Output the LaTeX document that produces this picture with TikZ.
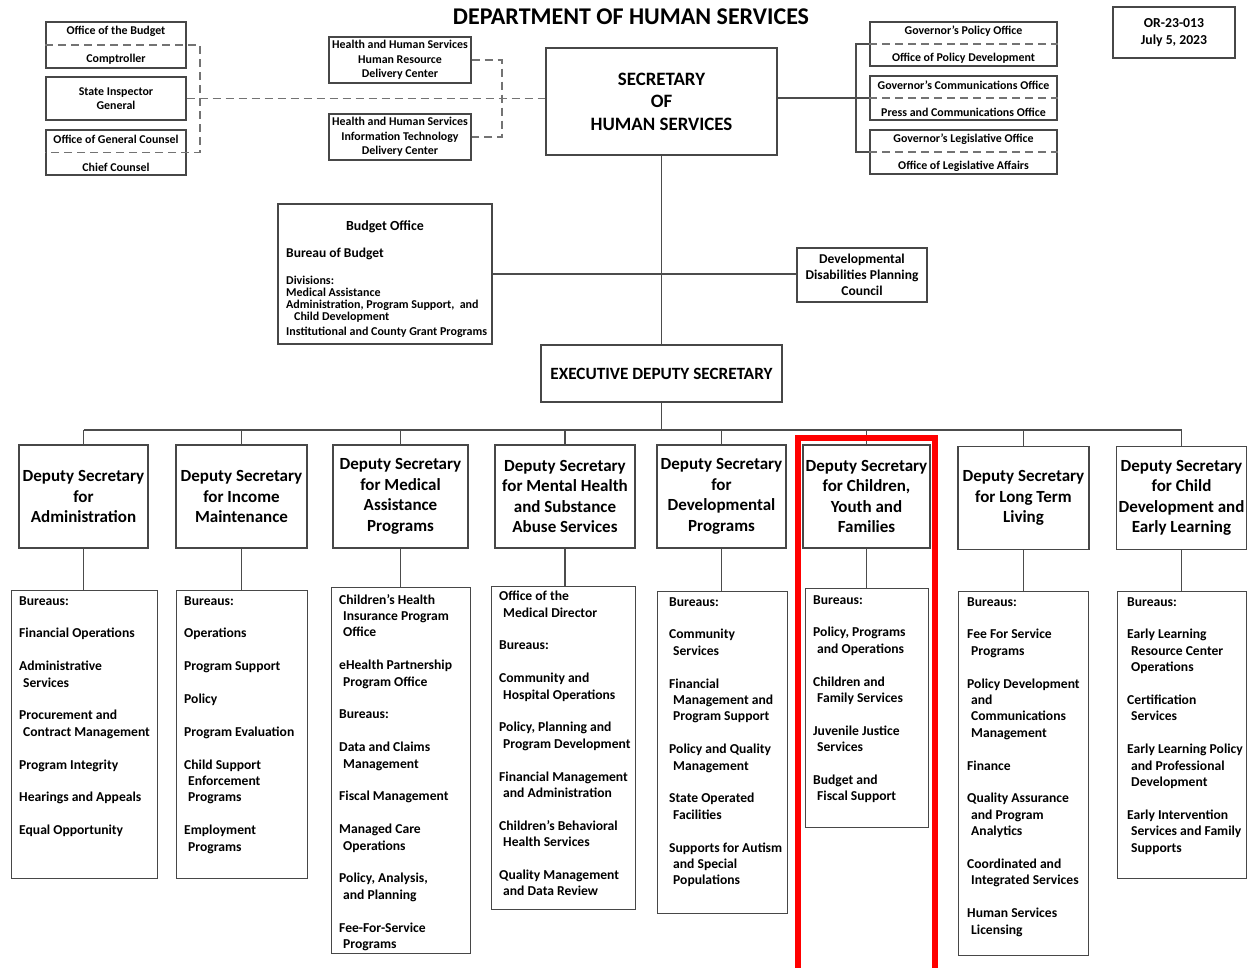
\documentclass[tikz,border=0pt]{standalone}
\usepackage{fontspec}
\setmainfont{Carlito}
\usetikzlibrary{positioning}
\newcommand{\ind}{\hspace*{4pt}}
\newcommand{\fs}[2]{\fontsize{#1}{#2}\selectfont}

\begin{document}
\begin{tikzpicture}[x=1pt, y=-1pt,
	box/.style={draw=black!72, line width=1.1pt, inner sep=0pt},
	conn/.style={draw=black!70, line width=1.1pt},
	dconn/.style={draw=black!55, line width=1.5pt, dash pattern=on 8pt off 5pt},
	txt/.style={inner sep=0pt, align=center, font=\bfseries\fs{11.9}{14.5}},
	deputy/.style={box, minimum height=103pt, align=center, font=\bfseries\fs{17}{20.5}},
	burbox/.style={box, anchor=north west},
	burtext/.style={anchor=north west, inner sep=0pt, align=left, font=\bfseries\fs{13.6}{16.4}}]
	\useasboundingbox (0,0) rectangle (1247,968);

	\node[inner sep=0pt, font=\bfseries\fs{24}{26}] (title) at (631,17) {DEPARTMENT OF HUMAN SERVICES};

	\node[box, minimum width=140pt, minimum height=46pt] (ofb) at (116,45) {};
	\node[txt] (ofbt) at (116,31) {Office of the Budget};
	\node[txt] (cmpt) at (116,59) {Comptroller};
	\node[box, txt, minimum width=140pt, minimum height=43pt] (sig) at (116,98.5) {State Inspector\\General};
	\node[box, minimum width=140pt, minimum height=45pt] (ogc) at (116,152.5) {};
	\node[txt] (ogct) at (116,139) {Office of General Counsel};
	\node[txt] (chct) at (116,167) {Chief Counsel};
	\coordinate (lb1) at (200,45);
	\coordinate (lb2) at (200,152.5);
	\draw[dconn] (ofb.west) -- (lb1) -- (lb2) -- (ogc.west);

	\node[box, txt, minimum width=142pt, minimum height=46pt] (hr) at (400,60) {Health and Human Services\\Human Resource\\Delivery Center};
	\node[box, txt, minimum width=142pt, minimum height=46pt] (it) at (400,137) {Health and Human Services\\Information Technology\\Delivery Center};
	\coordinate (hb1) at (502,60);
	\coordinate (hb2) at (502,137);
	\draw[dconn] (hr.east) -- (hb1) -- (hb2) -- (it.east);

	\node[box, align=center, font=\bfseries\fs{18.9}{22.5}, minimum width=231pt, minimum height=107pt] (sec) at (661.5,101.5) {SECRETARY\\OF\\HUMAN SERVICES};
	\draw[dconn] (sig.east) -- (sig.east -| sec.west);

	\node[box, minimum width=187pt, minimum height=44pt] (gpo) at (963.5,44) {};
	\node[txt] (gpot) at (963.5,31) {Governor's Policy Office};
	\node[txt] (opdt) at (963.5,58) {Office of Policy Development};
	\node[box, minimum width=187pt, minimum height=44pt] (gco) at (963.5,98) {};
	\node[txt] (gcot) at (963.5,85) {Governor's Communications Office};
	\node[txt] (pcot) at (963.5,112) {Press and Communications Office};
	\node[box, minimum width=187pt, minimum height=44pt] (glo) at (963.5,152) {};
	\node[txt] (glot) at (963.5,139) {Governor's Legislative Office};
	\node[txt] (olat) at (963.5,166) {Office of Legislative Affairs};
	\draw[dconn] (gpo.west) -- (gpo.east);
	\draw[dconn] (gco.west) -- (gco.east);
	\draw[dconn] (glo.west) -- (glo.east);
	\coordinate (rb1) at (856,44);
	\coordinate (rb2) at (856,152);
	\draw[conn] (gpo.west) -- (rb1) -- (rb2) -- (glo.west);
	\draw[conn] (sec.east |- gco.west) -- (gco.west);

	\node[box, txt, font=\bfseries\fs{13.7}{17}, minimum width=122pt, minimum height=51pt] (ord) at (1174,32.5) {OR-23-013\\July 5, 2023};

	\node[box, minimum width=214pt, minimum height=140pt] (bo) at (385,274) {};
	\node[txt, font=\bfseries\fs{13.9}{16}] (bot) at (385,227) {Budget Office};
	\node[txt, anchor=west, font=\bfseries\fs{13.5}{16}] (bob) at (286,254) {Bureau of Budget};
	\node[txt, anchor=north west, align=left, font=\bfseries\fs{12}{12}] (bod) at (286,276) {Divisions:\\Medical Assistance\\Administration, Program Support,\ \ and\\\ind\ind Child Development\\[3pt]Institutional and County Grant Programs};
	\node[box, txt, font=\bfseries\fs{13.5}{16}, minimum width=130pt, minimum height=54pt] (dd) at (862,275) {Developmental\\Disabilities Planning\\Council};
	\draw[conn] (bo.east) -- (bo.east -| dd.west);

	\node[box, font=\bfseries\fs{17.2}{20}, minimum width=241pt, minimum height=57pt] (eds) at (661.5,373.5) {EXECUTIVE DEPUTY SECRETARY};
	\draw[conn] (sec.south) -- (eds.north);
	\coordinate (bus) at (661.5,430);
	\draw[conn] (eds.south) -- (bus);

	\node[deputy, minimum width=129pt] (dep1) at (83.5,496.5) {Deputy Secretary\\for\\Administration};
	\node[deputy, minimum width=131pt] (dep2) at (241.5,496.5) {Deputy Secretary\\for Income\\Maintenance};
	\node[deputy, minimum width=135pt] (dep3) at (400.5,496.5) {Deputy Secretary\\for Medical\\Assistance\\Programs};
	\node[deputy, minimum width=140pt] (dep4) at (565,496.5) {Deputy Secretary\\for Mental Health\\and Substance\\Abuse Services};
	\node[deputy, minimum width=129pt] (dep5) at (721.5,496.5) {Deputy Secretary\\for\\Developmental\\Programs};
	\node[deputy, minimum width=127pt] (dep6) at (866.5,496.5) {Deputy Secretary\\for Children,\\Youth and\\Families};
	\node[deputy, minimum width=131pt] (dep7) at (1023.5,498) {Deputy Secretary\\for Long Term\\Living};
	\node[deputy, minimum width=130pt] (dep8) at (1181.5,498) {Deputy Secretary\\for Child\\Development and\\Early Learning};
	\draw[conn] (dep1.north |- bus) -- (dep8.north |- bus);
	\foreach \d in {1,...,8}
		\draw[conn] (dep\d.north |- bus) -- (dep\d.north);

	\node[burbox, minimum width=146pt, minimum height=288pt] (bur1) at (11,590) {};
	\node[burbox, minimum width=131pt, minimum height=288pt] (bur2) at (176,590) {};
	\node[burbox, minimum width=139pt, minimum height=366pt] (bur3) at (331,587) {};
	\node[burbox, minimum width=144pt, minimum height=323pt] (bur4) at (491,586) {};
	\node[burbox, minimum width=130pt, minimum height=322pt] (bur5) at (657,591) {};
	\node[burbox, minimum width=123pt, minimum height=239pt] (bur6) at (805,588) {};
	\node[burbox, minimum width=130pt, minimum height=364pt] (bur7) at (958,591) {};
	\node[burbox, minimum width=129pt, minimum height=287pt] (bur8) at (1117,591) {};
	\foreach \d in {1,...,8}
		\draw[conn] (dep\d.south) -- (dep\d.south |- bur\d.north);

	\node[burtext] (bur1t) at ([shift={(8,6)}]bur1.north west) {Bureaus:\\[16.4pt]Financial Operations\\[16.4pt]Administrative\\\ind Services\\[16.4pt]Procurement and\\\ind Contract Management\\[16.4pt]Program Integrity\\[16.4pt]Hearings and Appeals\\[16.4pt]Equal Opportunity};
	\node[burtext] (bur2t) at ([shift={(8,6)}]bur2.north west) {Bureaus:\\[16.4pt]Operations\\[16.4pt]Program Support\\[16.4pt]Policy\\[16.4pt]Program Evaluation\\[16.4pt]Child Support\\\ind Enforcement\\\ind Programs\\[16.4pt]Employment\\\ind Programs};
	\node[burtext] (bur3t) at ([shift={(8,7)}]bur3.north west) {Children's Health\\\ind Insurance Program\\\ind Office\\[16.4pt]eHealth Partnership\\\ind Program Office\\[16.4pt]Bureaus:\\[16.4pt]Data and Claims\\\ind Management\\[16.4pt]Fiscal Management\\[16.4pt]Managed Care\\\ind Operations\\[16.4pt]Policy, Analysis,\\\ind and Planning\\[16.4pt]Fee-For-Service\\\ind Programs};
	\node[burtext] (bur4t) at ([shift={(8,5)}]bur4.north west) {Office of the\\\ind Medical Director\\[16.4pt]Bureaus:\\[16.4pt]Community and\\\ind Hospital Operations\\[16.4pt]Policy, Planning and\\\ind Program Development\\[16.4pt]Financial Management\\\ind and Administration\\[16.4pt]Children's Behavioral\\\ind Health Services\\[16.4pt]Quality Management\\\ind and Data Review};
	\node[burtext] (bur5t) at ([shift={(12,6)}]bur5.north west) {Bureaus:\\[16.4pt]Community\\\ind Services\\[16.4pt]Financial\\\ind Management and\\\ind Program Support\\[16.4pt]Policy and Quality\\\ind Management\\[16.4pt]State Operated\\\ind Facilities\\[16.4pt]Supports for Autism\\\ind and Special\\\ind Populations};
	\node[burtext] (bur6t) at ([shift={(8,7)}]bur6.north west) {Bureaus:\\[16.4pt]Policy, Programs\\\ind and Operations\\[16.4pt]Children and\\\ind Family Services\\[16.4pt]Juvenile Justice\\\ind Services\\[16.4pt]Budget and\\\ind Fiscal Support};
	\node[burtext] (bur7t) at ([shift={(9,6)}]bur7.north west) {Bureaus:\\[16.4pt]Fee For Service\\\ind Programs\\[16.4pt]Policy Development\\\ind and\\\ind Communications\\\ind Management\\[16.4pt]Finance\\[16.4pt]Quality Assurance\\\ind and Program\\\ind Analytics\\[16.4pt]Coordinated and\\\ind Integrated Services\\[16.4pt]Human Services\\\ind Licensing};
	\node[burtext] (bur8t) at ([shift={(10,6)}]bur8.north west) {Bureaus:\\[16.4pt]Early Learning\\\ind Resource Center\\\ind Operations\\[16.4pt]Certification\\\ind Services\\[16.4pt]Early Learning Policy\\\ind and Professional\\\ind Development\\[16.4pt]Early Intervention\\\ind Services and Family\\\ind Supports};

	\draw[red, line width=6pt] (797.5,968) -- (797.5,438) -- (934.5,438) -- (934.5,968);
\end{tikzpicture}
\end{document}
